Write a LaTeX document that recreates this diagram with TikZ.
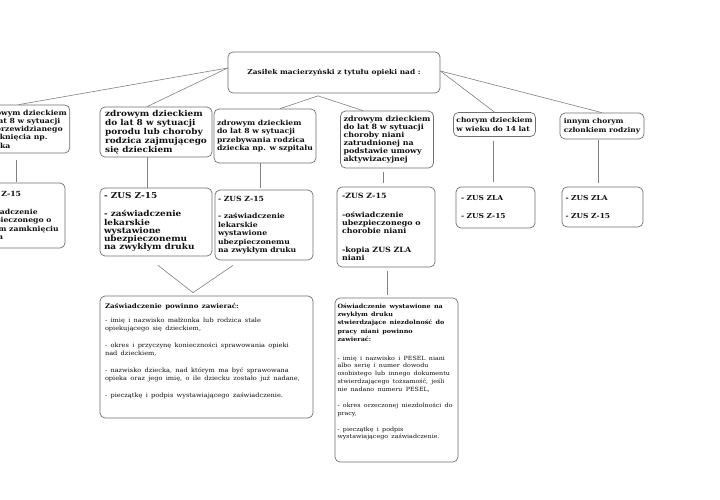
\documentclass[tikz,border=0pt]{standalone}
\usepackage{fontspec}
\setmainfont{DejaVu Serif}[FakeStretch=1.1]
\definecolor{bordc}{HTML}{707070}
\definecolor{linec}{HTML}{808080}
\definecolor{txtc}{HTML}{111111}
\tikzset{
  bx/.style={draw=bordc, line width=0.7pt, rounded corners=5pt, align=left, inner xsep=3pt, inner ysep=2pt, text=txtc},
  ln/.style={draw=linec, line width=0.6pt},
}
\newcommand{\FirstLn}[2]{\makebox[#1][l]{#2}}
\newcommand{\FntTop}{\bfseries\fontsize{6.75}{8.2}\selectfont}
\newcommand{\FntA}{\bfseries\fontsize{8.1}{7.9}\selectfont}
\newcommand{\FntAb}{\bfseries\fontsize{8.1}{8.2}\selectfont}
\newcommand{\FntB}{\bfseries\fontsize{7.0}{8.2}\selectfont}
\newcommand{\FntBb}{\bfseries\fontsize{7.0}{8.5}\selectfont}
\newcommand{\FntC}{\bfseries\fontsize{7.2}{8.0}\selectfont}
\newcommand{\FntCb}{\bfseries\fontsize{7.2}{8.4}\selectfont}
\newcommand{\FntD}{\bfseries\fontsize{6.8}{9.3}\selectfont}
\newcommand{\FntE}{\bfseries\fontsize{6.8}{9}\selectfont}
\begin{document}
\begin{tikzpicture}[x=1pt,y=-1pt]
\useasboundingbox (0,0) rectangle (720,500);
\fill[white] (0,0) rectangle (720,500);

% top
\node[bx, align=center, minimum width=212pt, minimum height=41pt, font=\FntTop] (top) at (334,72.5) {Zasiłek macierzyński z tytułu opieki nad :};

% row 1
\node[bx, minimum width=87pt, minimum height=48pt, font=\FntB] (b1) at (24.5,129) {zdrowym dzieckiem\\do lat 8 w sytuacji\\nieprzewidzianego\\zamknięcia np.\\żłobka};
\node[bx, minimum width=112pt, minimum height=50pt, font=\FntA] (b2) at (156,132) {zdrowym dzieckiem\\do lat 8 w sytuacji\\porodu lub choroby\\rodzica zajmującego\\się dzieckiem};
\node[bx, minimum width=100pt, minimum height=54pt, font=\FntB] (b3) at (265,136) {zdrowym dzieckiem\\do lat 8 w sytuacji\\przebywania rodzica\\dziecka np. w szpitalu};
\node[bx, minimum width=90pt, minimum height=57pt, font=\FntC] (b4) at (387,139.5) {zdrowym dzieckiem\\do lat 8 w sytuacji\\choroby niani\\zatrudnionej na\\podstawie umowy\\aktywizacyjnej};
\node[bx, minimum width=81pt, minimum height=24pt, font=\FntD] (b5) at (494.5,124.5) {chorym dzieckiem\\w wieku do 14 lat};
\node[bx, minimum width=84pt, minimum height=26pt, font=\FntD] (b6) at (602,126) {innym chorym\\członkiem rodziny};

% row 2
\node[bx, inner xsep=6pt, minimum height=65pt, font=\FntBb] (b1b) at (17,215.5) {\FirstLn{84pt}{- ZUS Z-15}\\[9pt]- oświadczenie\\ubezpieczonego o\\nagłym zamknięciu\\żłobka};
\node[bx, inner xsep=4pt, minimum height=68pt, font=\FntAb] (b2b) at (156,222) {\FirstLn{104pt}{- ZUS Z-15}\\[10pt]- zaświadczenie\\lekarskie\\wystawione\\ubezpieczonemu\\na zwykłym druku};
\node[bx, inner xsep=3pt, minimum height=70pt, font=\FntBb] (b3b) at (264,225) {\FirstLn{92pt}{- ZUS Z-15}\\[9pt]- zaświadczenie\\lekarskie\\wystawione\\ubezpieczonemu\\na zwykłym druku};
\node[bx, inner xsep=5pt, minimum height=80pt, font=\FntCb] (b4b) at (386,227) {\FirstLn{88pt}{-ZUS Z-15}\\[10pt]-oświadczenie\\ubezpieczonego o\\chorobie niani\\[10pt]-kopia ZUS ZLA\\niani};
\node[bx, inner xsep=5pt, minimum height=41pt, font=\FntE] (b5b) at (495.5,207.5) {\FirstLn{69pt}{- ZUS ZLA}\\[9pt]- ZUS Z-15};
\node[bx, inner xsep=3.5pt, minimum height=40pt, font=\FntE] (b6b) at (602.5,207) {\FirstLn{74pt}{- ZUS ZLA}\\[9pt]- ZUS Z-15};

% bottom
\node[bx, text width=203pt, inner xsep=5pt, minimum height=122pt] (c1) at (206.5,357) {{\bfseries\fontsize{6.4}{8}\selectfont Zaświadczenie powinno zawierać:\par}\vspace{7pt}{\fontsize{6.0}{7.5}\selectfont - imię i nazwisko małżonka lub rodzica stale\\ opiekującego się dzieckiem,\\[10pt] - okres i przyczynę konieczności sprawowania opieki\\ nad dzieckiem,\\[10pt] - nazwisko dziecka, nad którym ma być sprawowana\\ opieka oraz jego imię, o ile dziecku zostało już nadane,\\[10pt] - pieczątkę i podpis wystawiającego zaświadczenie.\par}\vspace*{12pt}};
\node[bx, text width=118pt, inner xsep=2.5pt, minimum height=164pt] (c2) at (396.5,380) {{\bfseries\fontsize{5.85}{8.3}\selectfont Oświadczenie wystawione na\\ zwykłym druku\\ stwierdzające niezdolność do\\ pracy niani powinno\\ zawierać:\par}\vspace{11pt}{\fontsize{5.75}{7.7}\selectfont - imię i nazwisko i PESEL niani\\ albo serię i numer dowodu\\ osobistego lub innego dokumentu\\ stwierdzającego tożsamość, jeśli\\ nie nadano numeru PESEL,\\[9pt] - okres orzeczonej niezdolności do\\ pracy,\\[8pt] - pieczątkę i podpis\\ wystawiającego zaświadczenie.\par}\vspace*{16pt}};

% connectors from top
\draw[ln] ([yshift=4.5pt]top.west) -- ([xshift=-6pt]b1.north);
\draw[ln] ([yshift=4.5pt]top.west) -- ([xshift=-9pt]b2.north);
\draw[ln] ([xshift=-16pt,yshift=-2.5pt]top.south) -- ([xshift=15pt]b3.north);
\draw[ln] ([xshift=-16pt,yshift=-2.5pt]top.south) -- ([xshift=-24pt]b4.north);
\draw[ln] ([yshift=1.5pt]top.east) -- (b5.north);
\draw[ln] ([yshift=1.5pt]top.east) -- (b6.north);

% verticals
\draw[ln, shorten <=7pt, shorten >=1pt] ([xshift=-8.5pt]b1.south) -- ([xshift=-8.5pt]b1.south |- b1b.north);
\draw[ln] ([xshift=-9pt]b2.south) -- ([xshift=-9pt]b2.south |- b2b.north);
\draw[ln, shorten >=2pt] ([xshift=-5pt]b3.south) -- ([xshift=-5pt]b3.south |- b3b.north);
\draw[ln, shorten <=4pt, shorten >=4pt] ([xshift=-4pt]b4.south) -- ([xshift=-4pt]b4.south |- b4b.north);
\draw[ln, shorten <=4pt, shorten >=5pt] ([xshift=-1.5pt]b5.south) -- ([xshift=-1.5pt]b5.south |- b5b.north);
\draw[ln, shorten <=1pt, shorten >=4pt] ([xshift=-4pt]b6.south) -- ([xshift=-4pt]b6.south |- b6b.north);

% to bottom boxes
\coordinate (m) at ([xshift=-13.5pt,yshift=3pt]c1.north);
\draw[ln] ([xshift=2pt,yshift=-9pt]b2b.south) -- (m) -- ([xshift=-31pt,yshift=-5pt]b3b.south);
\draw[ln, shorten <=4pt, shorten >=3pt] ([xshift=1pt]b4b.south) -- ([xshift=1pt]b4b.south |- c2.north);
\end{tikzpicture}
\end{document}
